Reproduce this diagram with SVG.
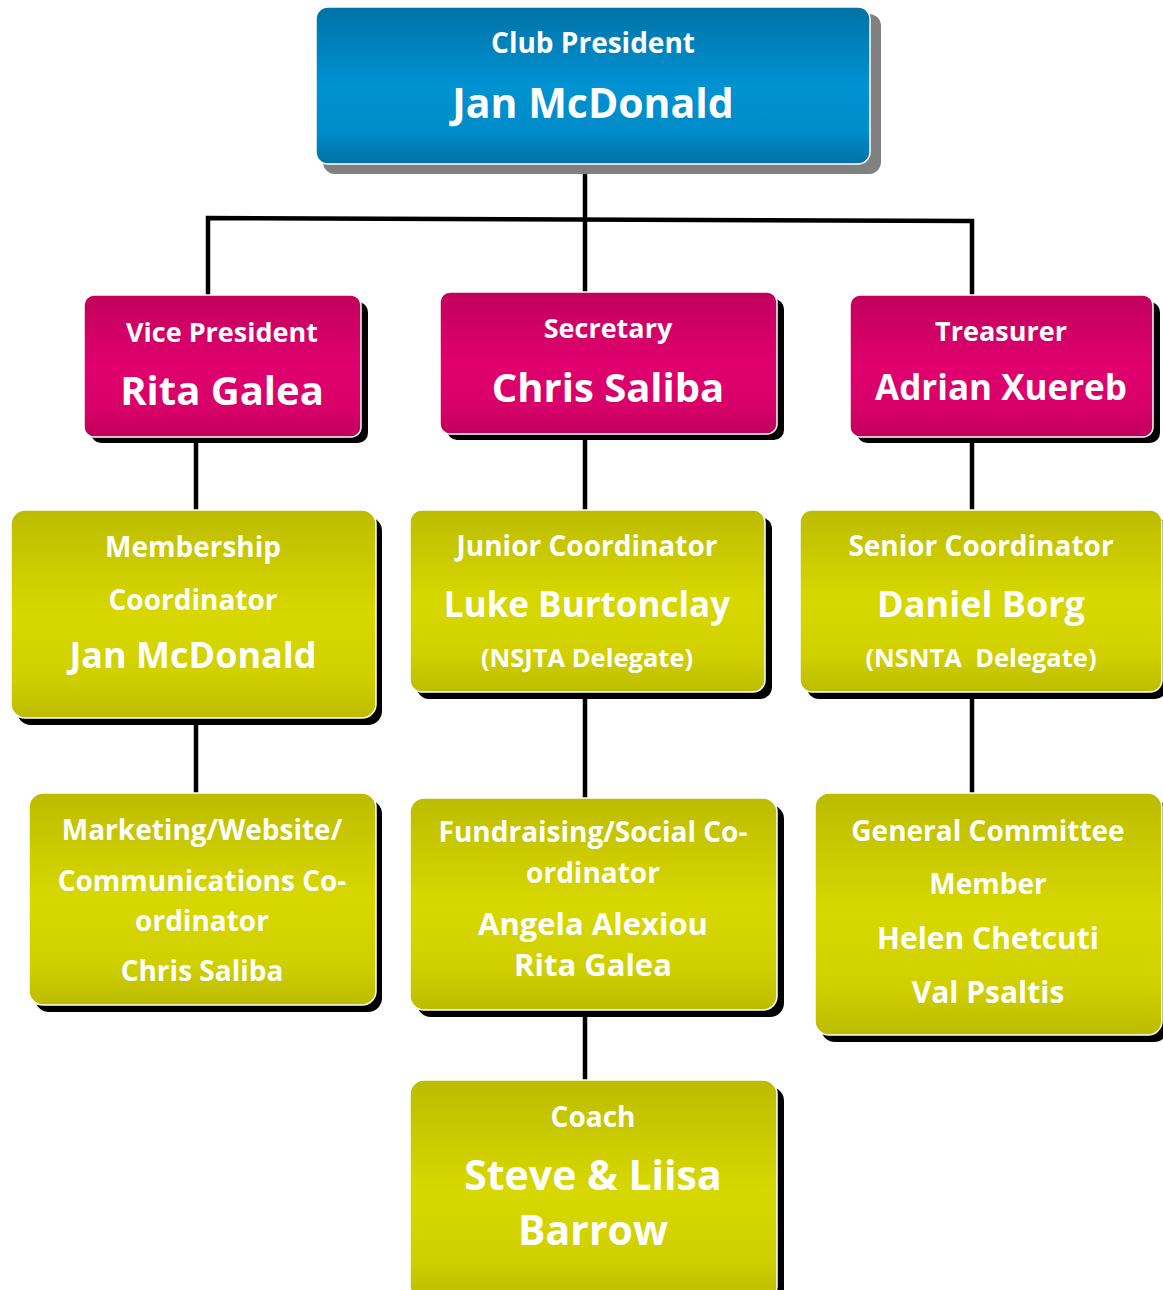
<svg xmlns="http://www.w3.org/2000/svg" width="1163" height="1290" viewBox="0 0 1163 1290">
<defs>
<linearGradient id="gBlue" x1="0" y1="0" x2="0" y2="1">
<stop offset="0" stop-color="#0072a6"/><stop offset="0.5" stop-color="#0092d2"/><stop offset="0.8" stop-color="#008cc8"/><stop offset="1" stop-color="#0071a6"/>
</linearGradient>
<linearGradient id="gPink" x1="0" y1="0" x2="0" y2="1">
<stop offset="0" stop-color="#c2005c"/><stop offset="0.5" stop-color="#e0006e"/><stop offset="0.8" stop-color="#d80069"/><stop offset="1" stop-color="#c0005c"/>
</linearGradient>
<linearGradient id="gOlive" x1="0" y1="0" x2="0" y2="1">
<stop offset="0" stop-color="#bcbc00"/><stop offset="0.5" stop-color="#d8d800"/><stop offset="0.8" stop-color="#d0d000"/><stop offset="1" stop-color="#bcbc00"/>
</linearGradient>
</defs>
<style>
text{font-family:"Open Sans","Noto Sans","DejaVu Sans",sans-serif;font-weight:bold;fill:#ffffff;text-anchor:middle}
.box{stroke:#ffffff;stroke-width:1.5}
.sh{fill:#000000}
.shg{fill:#808080}
.conn{stroke:#000000;stroke-width:4.5;fill:none}
</style>
<g id="connectors">
<line class="conn" x1="585" y1="164" x2="585" y2="292"/>
<polyline class="conn" points="208,295 208,218 972,221 972,295"/>
<line class="conn" x1="196" y1="437" x2="196" y2="510"/>
<line class="conn" x1="585" y1="434" x2="585" y2="510"/>
<line class="conn" x1="972" y1="437" x2="972" y2="510"/>
<line class="conn" x1="196" y1="718" x2="196" y2="793"/>
<line class="conn" x1="585" y1="692" x2="585" y2="798"/>
<line class="conn" x1="972" y1="692" x2="972" y2="793"/>
<line class="conn" x1="585" y1="1010" x2="585" y2="1080"/>
</g>
<g id="president">
<rect class="shg" x="323" y="14" width="558" height="160" rx="12"/>
<rect class="box" x="316" y="7" width="554" height="157" rx="12" fill="url(#gBlue)"/>
<text x="593" y="53" font-size="28">Club President</text>
<text x="593" y="118" font-size="41">Jan McDonald</text>
</g>
<g id="vice-president">
<rect class="sh" x="91" y="302" width="277" height="141" rx="10"/>
<rect class="box" x="84" y="295" width="277" height="142" rx="10" fill="url(#gPink)"/>
<text x="222" y="342" font-size="27">Vice President</text>
<text x="222" y="405" font-size="40">Rita Galea</text>
</g>
<g id="secretary">
<rect class="sh" x="447" y="299" width="337" height="141" rx="10"/>
<rect class="box" x="440" y="292" width="337" height="142" rx="10" fill="url(#gPink)"/>
<text x="608" y="338" font-size="27">Secretary</text>
<text x="608" y="402" font-size="40">Chris Saliba</text>
</g>
<g id="treasurer">
<rect class="sh" x="857" y="302" width="303" height="141" rx="10"/>
<rect class="box" x="850" y="295" width="303" height="142" rx="10" fill="url(#gPink)"/>
<text x="1001" y="341" font-size="27">Treasurer</text>
<text x="1001" y="400" font-size="35">Adrian Xuereb</text>
</g>
<g id="membership">
<rect class="sh" x="17" y="517" width="365" height="208" rx="14"/>
<rect class="box" x="11" y="510" width="365" height="208" rx="14" fill="url(#gOlive)"/>
<text x="193" y="557" font-size="28">Membership</text>
<text x="193" y="610" font-size="28">Coordinator</text>
<text x="193" y="668" font-size="36">Jan McDonald</text>
</g>
<g id="junior">
<rect class="sh" x="417" y="517" width="355" height="182" rx="12"/>
<rect class="box" x="410" y="510" width="355" height="182" rx="12" fill="url(#gOlive)"/>
<text x="587" y="556" font-size="28">Junior Coordinator</text>
<text x="587" y="617" font-size="35">Luke Burtonclay</text>
<text x="587" y="667" font-size="25.5">(NSJTA Delegate)</text>
</g>
<g id="senior">
<rect class="sh" x="807" y="517" width="360" height="182" rx="12"/>
<rect class="box" x="800" y="510" width="362" height="182" rx="12" fill="url(#gOlive)"/>
<text x="981" y="556" font-size="28">Senior Coordinator</text>
<text x="981" y="617" font-size="36">Daniel Borg</text>
<text x="981" y="667" font-size="25.5" xml:space="preserve">(NSNTA  Delegate)</text>
</g>
<g id="marketing">
<rect class="sh" x="35" y="800" width="347" height="212" rx="14"/>
<rect class="box" x="29" y="793" width="347" height="212" rx="14" fill="url(#gOlive)"/>
<text x="202" y="840" font-size="28">Marketing/Website/</text>
<text x="202" y="891" font-size="28">Communications Co-</text>
<text x="202" y="931" font-size="28">ordinator</text>
<text x="202" y="981" font-size="28">Chris Saliba</text>
</g>
<g id="fundraising">
<rect class="sh" x="417" y="805" width="367" height="212" rx="14"/>
<rect class="box" x="410" y="798" width="367" height="212" rx="14" fill="url(#gOlive)"/>
<text x="593" y="842" font-size="28">Fundraising/Social Co-</text>
<text x="593" y="883" font-size="28">ordinator</text>
<text x="593" y="935" font-size="31">Angela Alexiou</text>
<text x="593" y="976" font-size="31">Rita Galea</text>
</g>
<g id="general">
<rect class="sh" x="821" y="800" width="347" height="242" rx="14"/>
<rect class="box" x="815" y="793" width="347" height="242" rx="14" fill="url(#gOlive)"/>
<text x="988" y="841" font-size="28">General Committee</text>
<text x="988" y="894" font-size="28">Member</text>
<text x="988" y="949" font-size="30">Helen Chetcuti</text>
<text x="988" y="1003" font-size="30">Val Psaltis</text>
</g>
<g id="coach">
<rect class="sh" x="417" y="1087" width="367" height="220" rx="14"/>
<rect class="box" x="410" y="1080" width="367" height="220" rx="14" fill="url(#gOlive)"/>
<text x="593" y="1127" font-size="28">Coach</text>
<text x="593" y="1190" font-size="41">Steve &amp; Liisa</text>
<text x="593" y="1245" font-size="41">Barrow</text>
</g>
</svg>
